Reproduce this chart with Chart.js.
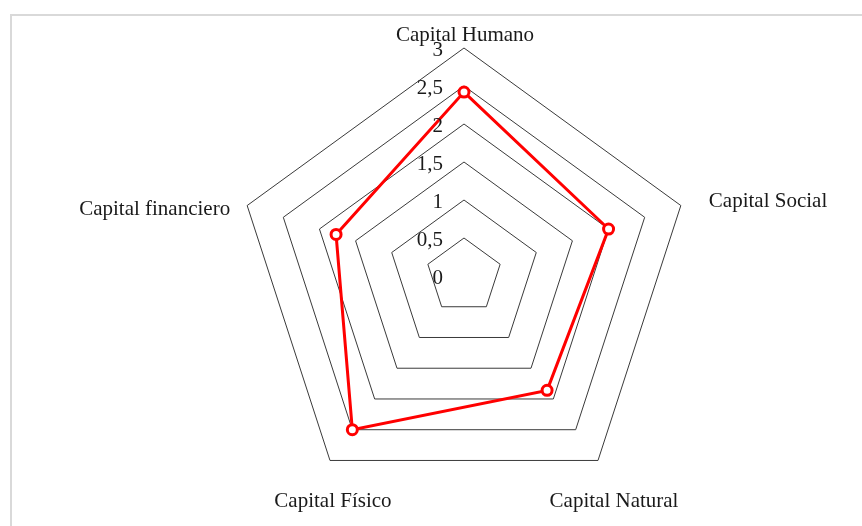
<!DOCTYPE html>
<html>
<head>
<meta charset="utf-8">
<script src="https://cdn.jsdelivr.net/npm/chart.js@4/dist/chart.umd.min.js"></script>
<style>
  html, body { margin: 0; padding: 0; background: #ffffff; }
  #wrap { width: 862px; height: 526px; position: relative; }
</style>
</head>
<body>
<div id="wrap"><canvas id="c" width="862" height="526"></canvas></div>
<script>
// ---- data ----
const categories = ["Capital Humano", "Capital Social", "Capital Natural", "Capital Físico", "Capital financiero"];
const seriesValues = [2.42, 2.0, 1.86, 2.5, 1.77];
const tickValues = [0, 0.5, 1, 1.5, 2, 2.5, 3];
const tickLabels = ["0", "0,5", "1", "1,5", "2", "2,5", "3"];

// ---- layout (label placement relative to outer vertex) ----
const labelPlacement = [
  { dx: 1, dy: -7, align: "center" },
  { dx: 28, dy: 1, align: "left" },
  { dx: 16, dy: 47, align: "center" },
  { dx: 3, dy: 47, align: "center" },
  { dx: -17, dy: 9, align: "right" }
];
const FONT = '21px "Liberation Serif", "Times New Roman", serif';

const framePlugin = {
  id: "frame",
  beforeDraw(chart) {
    const ctx = chart.ctx;
    ctx.save();
    ctx.fillStyle = "#ffffff";
    ctx.fillRect(0, 0, chart.width, chart.height);
    ctx.strokeStyle = "#d9d9d9";
    ctx.lineWidth = 2;
    ctx.strokeRect(11, 15, chart.width + 20, chart.height + 20);
    ctx.restore();
  }
};

const textPlugin = {
  id: "texts",
  afterDraw(chart) {
    const s = chart.scales.r;
    const ctx = chart.ctx;
    ctx.save();
    ctx.font = FONT;
    ctx.fillStyle = "#1a1a1a";
    ctx.textAlign = "right";
    ctx.textBaseline = "middle";
    tickValues.forEach((v, i) => {
      const p = s.getPointPositionForValue(0, v);
      ctx.fillText(tickLabels[i], p.x - 21, p.y + 2);
    });
    ctx.textBaseline = "alphabetic";
    categories.forEach((lab, i) => {
      const p = s.getPointPositionForValue(i, s.max);
      const pl = labelPlacement[i];
      ctx.textAlign = pl.align;
      ctx.fillText(lab, p.x + pl.dx, p.y + pl.dy);
    });
    ctx.restore();
  }
};

new Chart(document.getElementById("c"), {
  type: "radar",
  data: {
    labels: categories,
    datasets: [{
      data: seriesValues,
      borderColor: "#ff0000",
      borderWidth: 3,
      backgroundColor: "rgba(0,0,0,0)",
      fill: false,
      pointRadius: 5,
      pointHoverRadius: 5,
      pointBackgroundColor: "#ffffff",
      pointBorderColor: "#ff0000",
      pointBorderWidth: 3,
      tension: 0
    }]
  },
  options: {
    responsive: false,
    animation: false,
    devicePixelRatio: 1,
    layout: { padding: { top: 48, bottom: 22, left: 164, right: 98 } },
    plugins: { legend: { display: false }, tooltip: { enabled: false } },
    scales: {
      r: {
        min: 0,
        max: 3,
        ticks: { display: false, stepSize: 0.5 },
        pointLabels: { display: false },
        angleLines: { display: false },
        grid: { color: "#3a3a3a", lineWidth: 1 }
      }
    }
  },
  plugins: [framePlugin, textPlugin]
});
</script>
</body>
</html>
